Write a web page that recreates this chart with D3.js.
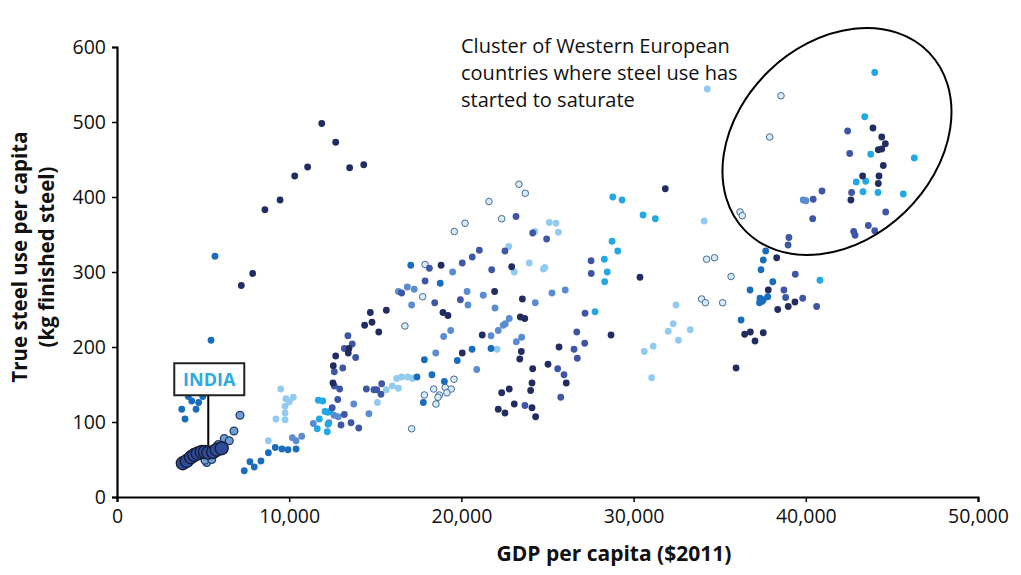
<!DOCTYPE html>
<html>
<head>
<meta charset="utf-8">
<script src="https://cdn.jsdelivr.net/npm/d3@7"></script>
<style>
  body { margin: 0; background: #fff; }
  .chart { width: 1021px; height: 575px; }
  text { font-family: "Open Sans", "Noto Sans", sans-serif; fill: #111; }
</style>
</head>
<body>
<div class="chart"></div>
<script>
// GDP per capita ($2011), steel use per capita (kg)
const navy = [
  [11890,498],[12700,473],[11070,440],[10320,428],[13510,439],[14330,443],[9470,396],[8590,383],
  [7880,298],[7220,282],[18820,309],[18930,246],[19220,242],[14710,246],[15640,249],[14810,233],
  [14380,229],[15200,220],[13470,198],[13430,192],[12700,188],[12560,175],[12540,152],[20050,192],
  [22920,307],[21930,274],[23540,264],[23420,240],[23680,238],[21210,216],[23480,194],[23390,184],
  [25670,200],[25030,177],[24140,171],[28690,216],[24100,152],[22780,144],[22340,139],[24020,142],
  [23070,124],[24100,119],[22140,117],[22530,112],[24310,107],[26090,152],[31840,411],[30370,293],
  [35950,172],[38310,319],[37820,276],[36450,217],[36780,220],[37530,219],[37050,208],[38370,250],
  [39370,260],[38980,254],[43900,492],[44410,480],[44620,471],[44210,463],[44410,464],[44500,442],
  [43300,428],[44250,428],[44210,418],[42620,396]
];
const medNavy = [
  [18140,305],[20050,312],[20630,320],[16530,272],[19940,263],[13410,215],[13660,204],[13200,198],
  [13860,186],[13110,172],[12620,167],[12620,148],[12930,144],[12820,130],[12500,119],[13200,110],
  [13590,99],[14040,92],[13010,96],[14480,144],[14920,143],[15080,143],[15370,151],[15330,137],
  [23170,374],[24140,352],[24950,344],[21040,329],[22530,328],[21760,303],[17890,288],[18450,259],
  [27530,315],[27540,298],[27180,245],[26700,220],[27160,205],[26540,197],[26730,185],[25590,171],
  [25960,163],[25770,133],[23690,122],[39020,346],[38970,336],[39390,297],[38730,276],[38830,266],
  [39820,265],[40630,254],[42430,488],[42550,458],[42660,406],[40940,408],[40430,397],[40400,371],
  [44640,380],[43630,362],[44000,355],[42780,354],[42860,349]
];
const medBlue = [
  [19490,300],[16860,280],[16340,274],[17260,277],[17110,256],[20330,274],[20380,256],[19380,222],
  [18970,214],[12600,109],[12850,107],[11400,98],[12310,99],[10180,79],[10400,75],[10730,81],
  [13750,124],[14630,111],[21270,269],[21950,252],[22780,238],[22550,231],[22430,229],[22140,222],
  [21720,215],[23500,213],[23190,207],[24290,259],[25260,272],[26030,276],[18510,192],[20890,170],
  [39850,396],[40010,395]
];
const strongBlue = [
  [17060,309],[18770,285],[17850,183],[18290,163],[17420,160],[20620,197],[19760,182],[19010,154],
  [17790,126],[21720,198],[5690,321],[5460,209],[3760,117],[3950,104],[4140,134],[4340,128],
  [4590,117],[4740,126],[4980,134],[7390,35],[7720,47],[7970,40],[8360,48],[8790,59],[9190,66],
  [9580,64],[9930,63],[10400,64],[37670,328],[37530,316],[37400,303],[38080,287],[36760,276],
  [37340,265],[37530,263],[37790,267],[37310,259],[37470,261],[36240,236]
];
const cyan = [
  [11690,129],[11950,128],[12080,114],[12240,113],[12370,114],[11750,104],[12250,97],[11630,91],
  [12210,87],[28790,400],[29330,396],[30550,376],[31260,371],[28750,341],[29080,328],[28300,317],
  [28470,300],[28320,287],[27760,247],[44000,566],[43420,507],[43770,457],[46300,452],[42930,420],
  [43480,421],[43320,407],[44190,406],[45660,404],[40820,289]
];
const lightBlue = [
  [16240,158],[16530,160],[16880,160],[17150,158],[16340,145],[15990,148],[15640,143],[15120,126],
  [9510,144],[9810,131],[10240,133],[10010,127],[9760,121],[9760,112],[9230,104],[9760,103],
  [8790,75],[22070,197],[22750,334],[23070,300],[23940,312],[24760,304],[24850,306],[25100,366],
  [25490,365],[25630,353],[24260,354],[34100,368],[32460,256],[32300,231],[32010,221],[33290,223],
  [32600,209],[31140,201],[30620,194],[31050,159],[34280,544]
];
const hollow = [
  [17890,310],[17750,267],[16720,228],[19570,157],[18390,144],[18720,136],[18640,133],[19060,146],
  [19410,144],[19160,139],[17850,136],[18520,124],[17110,91],[23340,417],[23710,405],[21600,394],
  [20210,365],[19590,354],[22340,371],[36180,380],[36310,375],[34240,317],[34700,319],[35660,294],
  [33950,264],[34170,259],[35170,259],[38560,535],[37900,480]
];
const indiaRing = [
  [7140,109],[6790,88],[6230,78],[6520,75],[5880,70],[5210,46],[5110,49],[5500,50]
];
const india = [
  [3820,45],[4050,48],[4300,53],[4490,56],[4690,58],[4920,60],[5110,60],[5300,59],[5590,60],
  [5790,63],[6080,65]
];

const xTicks = [0, 10000, 20000, 30000, 40000, 50000];
const yTicks = [0, 100, 200, 300, 400, 500, 600];
const noteLines = ['Cluster of Western European', 'countries where steel use has', 'started to saturate'];

const width = d3.select('.chart').node().clientWidth;
const height = d3.select('.chart').node().clientHeight;
const margin = {top: 47, right: 43, bottom: 78, left: 117};

const svg = d3.select('.chart')
  .append('svg')
  .attr('width', width)
  .attr('height', height);

const x = d3.scaleLinear().domain([0, 50000]).range([margin.left, width - margin.right]);
const y = d3.scaleLinear().domain([0, 600]).range([height - margin.bottom, margin.top]);

// axes
svg.append('g')
  .attr('transform', `translate(0,${y(0)})`)
  .call(d3.axisBottom(x).tickValues(xTicks).tickSize(5).tickPadding(7)
    .tickFormat(d3.format(',')));
svg.append('g')
  .attr('transform', `translate(${x(0)},0)`)
  .call(d3.axisLeft(y).tickValues(yTicks).tickSize(5).tickPadding(6));

svg.selectAll('.domain').attr('stroke', '#000').attr('stroke-width', 2.2);
svg.selectAll('.tick line').attr('stroke', '#000').attr('stroke-width', 1.5);
svg.selectAll('.tick text')
  .style('font-family', '"Open Sans", sans-serif')
  .style('font-size', '19.5px')
  .attr('fill', '#111');

// axis titles
svg.append('text')
  .attr('x', 614)
  .attr('y', 561)
  .attr('text-anchor', 'middle')
  .style('font-size', '21px')
  .style('font-weight', 'bold')
  .text('GDP per capita ($2011)');

const yt = svg.append('text')
  .attr('transform', 'translate(27,257) rotate(-90)')
  .attr('text-anchor', 'middle')
  .style('font-size', '20.5px')
  .style('font-weight', 'bold');
yt.append('tspan').attr('x', 0).attr('dy', 0).text('True steel use per capita');
yt.append('tspan').attr('x', 0).attr('dy', 27).text('(kg finished steel)');

// points
function dots(data, fill, stroke, r, sw) {
  svg.append('g')
    .selectAll('circle')
    .data(data)
    .join('circle')
    .attr('cx', d => x(d[0]))
    .attr('cy', d => y(d[1]))
    .attr('r', r)
    .attr('fill', fill)
    .attr('stroke', stroke)
    .attr('stroke-width', sw);
}
dots(lightBlue, '#93cbef', 'none', 3.4, 0);
dots(hollow, '#d5ebf8', '#4a6b90', 3.3, 1);
dots(medBlue, '#5b8bd0', 'none', 3.4, 0);
dots(cyan, '#22a8e5', 'none', 3.4, 0);
dots(strongBlue, '#1a6cbc', 'none', 3.4, 0);
dots(medNavy, '#3e56a4', 'none', 3.4, 0);
dots(navy, '#222c60', 'none', 3.4, 0);
dots(indiaRing, '#6d9ed4', '#263b63', 3.9, 1.3);

// India label and leader
const indiaAt = [5300, 59];
svg.append('line')
  .attr('x1', x(indiaAt[0])).attr('x2', x(indiaAt[0]))
  .attr('y1', y(157) + 15).attr('y2', y(indiaAt[1]))
  .attr('stroke', '#000').attr('stroke-width', 2);
svg.append('rect')
  .attr('x', x(indiaAt[0]) - 34).attr('y', y(157) - 16)
  .attr('width', 70).attr('height', 32)
  .attr('fill', '#fff').attr('stroke', '#222').attr('stroke-width', 2);
svg.append('text')
  .attr('x', x(indiaAt[0]) + 1).attr('y', y(157) + 7)
  .attr('text-anchor', 'middle')
  .style('font-size', '18px').style('font-weight', 'bold')
  .style('fill', '#2aabe3')
  .text('INDIA');

dots(india, '#2f4b98', '#161c33', 6.5, 1.3);

// Western Europe ellipse
const ellC = [41810, 474];
svg.append('ellipse')
  .attr('cx', x(ellC[0])).attr('cy', y(ellC[1]))
  .attr('rx', 128).attr('ry', 98)
  .attr('transform', `rotate(-44,${x(ellC[0])},${y(ellC[1])})`)
  .attr('fill', 'none').attr('stroke', '#000').attr('stroke-width', 2);

svg.append('g')
  .selectAll('text')
  .data(noteLines)
  .join('text')
  .attr('x', 461)
  .attr('y', (d, i) => 53 + i * 27)
  .style('font-size', '20px')
  .text(d => d);
</script>
</body>
</html>
